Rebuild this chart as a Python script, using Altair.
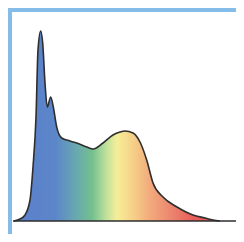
import altair as alt
import pandas as pd

# outline of the spectrum (x position, height above baseline)
xs = [14, 20, 25, 30, 33, 36, 38, 40.7, 42.7, 45, 47.3, 50.7, 53.3, 56.7, 61.7,
      70, 76.7, 86.7, 93.3, 103, 113, 120, 125, 133, 140, 146.7, 153, 163, 177,
      193, 205, 213, 220]
ys = [0, 2, 6, 21, 54, 104, 171, 190, 178, 138, 114, 124, 114, 94, 83,
      80, 78, 74, 72, 78, 86, 89, 90, 88, 79, 61, 38, 24, 14,
      6, 3, 1, 0]

base_x = [13, 242]
base_y = [0, 0]

stop_offsets = [0.0, 0.2, 0.3, 0.38, 0.45, 0.5, 0.58, 0.65, 0.75, 0.87, 1.0]
stop_colors = ["#5a7fcb", "#5c86c9", "#68a8b0", "#74c08e", "#c2e29c", "#f7ee98",
               "#f6cf88", "#f3ae7e", "#ec8a70", "#e85c5a", "#e65556"]

FRAME = "#86bde8"

df = pd.DataFrame({"x": xs, "y": ys})
bdf = pd.DataFrame({"x": base_x, "y": base_y})

xsc = alt.Scale(domain=[12, 236], nice=False, zero=False)
ysc = alt.Scale(domain=[-13, 209], nice=False, zero=False)
X = alt.X("x:Q", scale=xsc, axis=None)
Y = alt.Y("y:Q", scale=ysc, axis=None)

grad = alt.Gradient(
    gradient="linear",
    stops=[alt.GradientStop(offset=o, color=c) for o, c in zip(stop_offsets, stop_colors)],
    x1=0, x2=1, y1=0, y2=0,
)

area = alt.Chart(df).mark_area(interpolate="monotone", color=grad, opacity=1).encode(x=X, y=Y)
line = alt.Chart(df).mark_line(interpolate="monotone", color="#2e2e2e", strokeWidth=1.6).encode(x=X, y=Y)
base = alt.Chart(bdf).mark_line(color="#2e2e2e", strokeWidth=1.6, clip=True).encode(x=X, y=Y)

top_band = alt.Chart(bdf).mark_rect(color=FRAME).encode(
    x=alt.value(-4), x2=alt.value(224), y=alt.value(-4), y2=alt.value(0))
left_band = alt.Chart(bdf).mark_rect(color=FRAME).encode(
    x=alt.value(-4), x2=alt.value(0), y=alt.value(-4), y2=alt.value(222))

chart = alt.layer(area, line, base, top_band, left_band).properties(
    width=224, height=222,
    background="white",
    padding={"left": 4, "top": 4, "right": 0, "bottom": 0},
    autosize=alt.AutoSizeParams(type="none"),
).configure_view(fill="white", stroke=None)

chart.save("out.html", embed_options={"renderer": "svg", "actions": False})
